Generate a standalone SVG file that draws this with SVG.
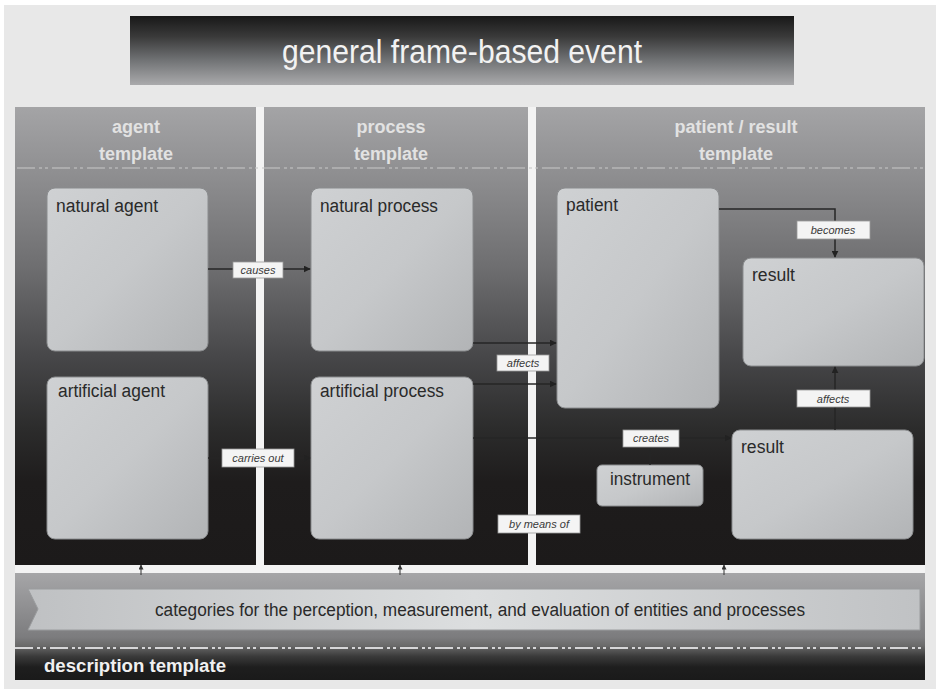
<svg xmlns="http://www.w3.org/2000/svg" width="940" height="693" viewBox="0 0 940 693">
<defs>
  <linearGradient id="gTitle" x1="0" y1="0" x2="0" y2="1">
    <stop offset="0" stop-color="#181818"/>
    <stop offset="0.3" stop-color="#3a3a3a"/>
    <stop offset="0.65" stop-color="#727476"/>
    <stop offset="1" stop-color="#aaaaac"/>
  </linearGradient>
  <linearGradient id="gPanel" gradientUnits="userSpaceOnUse" x1="0" y1="107" x2="0" y2="565">
    <stop offset="0" stop-color="#a4a4a6"/>
    <stop offset="0.15" stop-color="#8e8e90"/>
    <stop offset="0.35" stop-color="#6e6e70"/>
    <stop offset="0.55" stop-color="#464648"/>
    <stop offset="0.7" stop-color="#2c2c2c"/>
    <stop offset="0.82" stop-color="#1e1c1c"/>
    <stop offset="1" stop-color="#1c1a1a"/>
  </linearGradient>
  <linearGradient id="gNode" x1="0" y1="0" x2="1" y2="1">
    <stop offset="0" stop-color="#cfd1d3"/>
    <stop offset="0.5" stop-color="#c6c8ca"/>
    <stop offset="1" stop-color="#b2b4b6"/>
  </linearGradient>
  <linearGradient id="gBand" gradientUnits="userSpaceOnUse" x1="0" y1="573" x2="0" y2="680">
    <stop offset="0" stop-color="#a6a6a8"/>
    <stop offset="0.6" stop-color="#7c7c7e"/>
    <stop offset="0.68" stop-color="#6a6a6a"/>
    <stop offset="0.78" stop-color="#3a3a3a"/>
    <stop offset="0.88" stop-color="#1e1e1e"/>
    <stop offset="1" stop-color="#1a1a1a"/>
  </linearGradient>
  <linearGradient id="gBanner" x1="0" y1="0" x2="1" y2="0">
    <stop offset="0" stop-color="#bfc1c3"/>
    <stop offset="0.5" stop-color="#dcdedf"/>
    <stop offset="1" stop-color="#c0c2c4"/>
  </linearGradient>
  <marker id="ah" viewBox="0 0 10 10" refX="9" refY="5" markerWidth="7" markerHeight="7" markerUnits="userSpaceOnUse" orient="auto">
    <path d="M0,0 L10,5 L0,10 z" fill="#222"/>
  </marker>
  <marker id="ahs" viewBox="0 0 10 10" refX="9" refY="5" markerWidth="5" markerHeight="5" markerUnits="userSpaceOnUse" orient="auto">
    <path d="M0,0 L10,5 L0,10 z" fill="#333"/>
  </marker>
  <style>
    .hdr { font-family: "Liberation Sans", Arial, sans-serif; font-weight: bold; font-size: 18px; fill: #e2e2e2; text-anchor: middle; }
    .node rect { fill: url(#gNode); stroke: #8a8c8e; stroke-width: 1; }
    .nl { font-family: "Liberation Sans", Arial, sans-serif; font-size: 18px; fill: #2a2a2a; }
    .conn { stroke: #262626; stroke-width: 1.5; fill: none; }
    .lbl rect { fill: #f4f4f4; stroke: #9a9a9a; stroke-width: 0.8; }
    .lbl text { font-family: "Liberation Sans", Arial, sans-serif; font-style: italic; font-size: 11px; fill: #3a3a3a; text-anchor: middle; }
    .dash { stroke: #c4c4c6; stroke-width: 1.5; stroke-dasharray: 18 4 3 3 3 4; fill: none; opacity: 0.7; }
  </style>
</defs>

<!-- background -->
<rect x="0" y="0" width="940" height="693" fill="#ffffff"/>
<rect x="4" y="5" width="932" height="684" fill="#e8e8e8"/>
<rect x="15" y="107" width="910" height="468" fill="#f3f3f3"/>

<!-- title -->
<g id="title">
  <rect x="130" y="16" width="664" height="69" fill="url(#gTitle)"/>
  <text x="462" y="63" font-family="'Liberation Sans', Arial, sans-serif" font-size="34" fill="#f2f2f2" text-anchor="middle" textLength="360" lengthAdjust="spacingAndGlyphs">general frame-based event</text>
</g>

<!-- panels -->
<g id="agent-template">
  <rect x="15" y="107" width="241" height="458" fill="url(#gPanel)"/>
  <text class="hdr" x="136" y="133">agent</text>
  <text class="hdr" x="136" y="160">template</text>
</g>
<g id="process-template">
  <rect x="264" y="107" width="264" height="458" fill="url(#gPanel)"/>
  <text class="hdr" x="391" y="133">process</text>
  <text class="hdr" x="391" y="160">template</text>
</g>
<g id="patient-result-template">
  <rect x="536" y="107" width="389" height="458" fill="url(#gPanel)"/>
  <text class="hdr" x="736" y="133">patient / result</text>
  <text class="hdr" x="736" y="160">template</text>
</g>
<path class="dash" d="M17,168 H925"/>

<!-- description band -->
<g id="description-template">
  <rect x="15" y="573" width="910" height="107" fill="url(#gBand)"/>
  <path d="M15,648 H925" stroke="#d6d6d8" stroke-width="2" stroke-dasharray="18 4 3 3 3 4" fill="none"/>
  <text x="44" y="672" font-family="'Liberation Sans', Arial, sans-serif" font-weight="bold" font-size="18" fill="#f0f0f0" textLength="182" lengthAdjust="spacingAndGlyphs">description template</text>
</g>
<g id="categories">
  <polygon points="28,589 920,589 920,630 28,630 38,609" fill="url(#gBanner)" stroke="#9a9c9e" stroke-width="1"/>
  <text x="480" y="616" font-family="'Liberation Sans', Arial, sans-serif" font-size="18" fill="#2a2a2a" text-anchor="middle" textLength="650" lengthAdjust="spacingAndGlyphs">categories for the perception, measurement, and evaluation of entities and processes</text>
</g>

<!-- nodes -->
<g id="natural-agent" class="node">
  <rect x="47" y="188" width="161" height="163" rx="8"/>
  <text class="nl" x="56" y="212" textLength="102" lengthAdjust="spacingAndGlyphs">natural agent</text>
</g>
<g id="artificial-agent" class="node">
  <rect x="47" y="377" width="161" height="162" rx="8"/>
  <text class="nl" x="58" y="397" textLength="107" lengthAdjust="spacingAndGlyphs">artificial agent</text>
</g>
<g id="natural-process" class="node">
  <rect x="311" y="188" width="162" height="163" rx="8"/>
  <text class="nl" x="320" y="212" textLength="118" lengthAdjust="spacingAndGlyphs">natural process</text>
</g>
<g id="artificial-process" class="node">
  <rect x="311" y="377" width="162" height="162" rx="8"/>
  <text class="nl" x="320" y="397" font-size="19" textLength="124" lengthAdjust="spacingAndGlyphs">artificial process</text>
</g>
<g id="patient" class="node">
  <rect x="557" y="188" width="162" height="220" rx="8"/>
  <text class="nl" x="566" y="211" textLength="52" lengthAdjust="spacingAndGlyphs">patient</text>
</g>
<g id="result-top" class="node">
  <rect x="743" y="258" width="181" height="108" rx="8"/>
  <text class="nl" x="752" y="281" textLength="43" lengthAdjust="spacingAndGlyphs">result</text>
</g>
<g id="result-bottom" class="node">
  <rect x="732" y="430" width="181" height="109" rx="8"/>
  <text class="nl" x="741" y="453" textLength="43" lengthAdjust="spacingAndGlyphs">result</text>
</g>
<g id="instrument" class="node">
  <rect x="597" y="465" width="106" height="41" rx="5"/>
  <text class="nl" x="650" y="485" text-anchor="middle" textLength="80" lengthAdjust="spacingAndGlyphs">instrument</text>
</g>

<!-- connectors -->
<g id="connectors">
  <path class="conn" d="M208,269 H310" marker-end="url(#ah)"/>
  <path class="conn" d="M208,458 H310" marker-end="url(#ah)"/>
  <path class="conn" d="M473,343 H556" marker-end="url(#ah)"/>
  <path class="conn" d="M473,384 H556" marker-end="url(#ah)"/>
  <path class="conn" d="M473,438 H731" marker-end="url(#ah)"/>
  <path class="conn" d="M650,465 V446"/>
  <path class="conn" d="M719,209 H835 V257" marker-end="url(#ah)"/>
  <path class="conn" d="M835,430 V367" marker-end="url(#ah)"/>
  <path d="M141,575 V565" stroke="#333" stroke-width="1" marker-end="url(#ahs)"/>
  <path d="M400,575 V565" stroke="#333" stroke-width="1" marker-end="url(#ahs)"/>
  <path d="M724,575 V565" stroke="#333" stroke-width="1" marker-end="url(#ahs)"/>

  <g class="lbl"><rect x="233" y="262" width="50" height="16"/><text x="258" y="274">causes</text></g>
  <g class="lbl"><rect x="222" y="449" width="72" height="18"/><text x="258" y="462">carries out</text></g>
  <g class="lbl"><rect x="497" y="355" width="52" height="16"/><text x="523" y="367">affects</text></g>
  <g class="lbl"><rect x="623" y="430" width="56" height="17"/><text x="651" y="442">creates</text></g>
  <g class="lbl"><rect x="498" y="515" width="82" height="18"/><text x="539" y="528" font-size="12">by means of</text></g>
  <g class="lbl"><rect x="797" y="221" width="73" height="18"/><text x="833" y="234">becomes</text></g>
  <g class="lbl"><rect x="797" y="390" width="73" height="17"/><text x="833" y="403">affects</text></g>
</g>
</svg>
